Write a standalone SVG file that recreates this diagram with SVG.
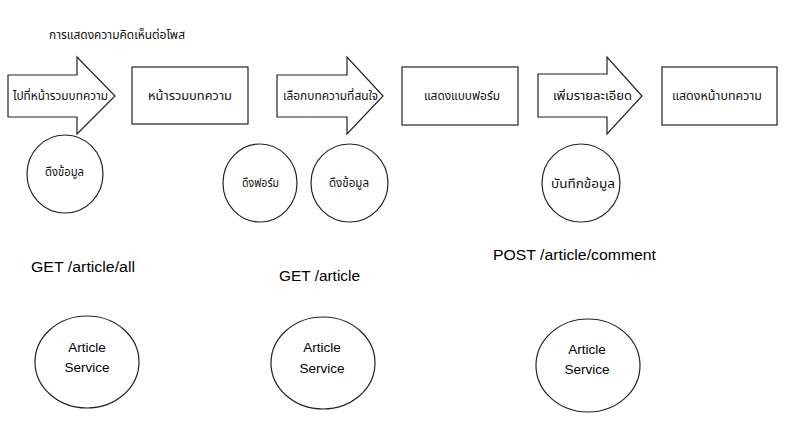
<svg xmlns="http://www.w3.org/2000/svg" width="787" height="438" viewBox="0 0 787 438">
<style>
.shape{fill:#ffffff;stroke:#222222;stroke-width:1.2}
.th{font-family:"Noto Sans Thai","Noto Sans","DejaVu Sans",Tahoma,sans-serif;font-size:12px;fill:#111111;text-anchor:middle}
.en{font-family:"Liberation Sans","Open Sans",Arial,sans-serif;font-size:14px;fill:#000000}
.svc{font-family:"Liberation Sans","Open Sans",Arial,sans-serif;font-size:13.5px;fill:#000000;text-anchor:middle}
</style>
<rect width="787" height="438" fill="#ffffff"/>
<text class="th" x="49" y="39" style="text-anchor:start" textLength="136" lengthAdjust="spacingAndGlyphs">การแสดงความคิดเห็นต่อโพส</text>
<g id="connectors"></g>
<g id="arrow-goto-list">
<polygon class="shape" points="8,75 77,75 77,57 115,96 77,134 77,117 8,117"/>
<text class="th" x="60.5" y="100" textLength="95" lengthAdjust="spacingAndGlyphs">ไปที่หน้ารวมบทความ</text>
</g>
<g id="page-list">
<rect class="shape" x="132" y="67" width="116" height="57"/>
<text class="th" x="190" y="100" textLength="84" lengthAdjust="spacingAndGlyphs">หน้ารวมบทความ</text>
</g>
<g id="arrow-select">
<polygon class="shape" points="277,75 347,75 347,57 383,96 347,134 347,117 277,117"/>
<text class="th" x="330.5" y="100" textLength="95" lengthAdjust="spacingAndGlyphs">เลือกบทความที่สนใจ</text>
</g>
<g id="page-form">
<rect class="shape" x="402" y="67" width="116" height="58"/>
<text class="th" x="462" y="100" textLength="76" lengthAdjust="spacingAndGlyphs">แสดงแบบฟอร์ม</text>
</g>
<g id="arrow-add">
<polygon class="shape" points="538,74 607,74 607,57 642,96 607,134 607,117 538,117"/>
<text class="th" x="592.5" y="100" textLength="79" lengthAdjust="spacingAndGlyphs">เพิ่มรายละเอียด</text>
</g>
<g id="page-article">
<rect class="shape" x="662" y="67" width="115" height="58"/>
<text class="th" x="717" y="100" textLength="90" lengthAdjust="spacingAndGlyphs">แสดงหน้าบทความ</text>
</g>
<g id="fetch-data-1">
<ellipse class="shape" cx="65" cy="174" rx="38" ry="39"/>
<text class="th" x="64.5" y="176" textLength="39" lengthAdjust="spacingAndGlyphs">ดึงข้อมูล</text>
</g>
<g id="fetch-form">
<ellipse class="shape" cx="260" cy="183" rx="37" ry="39"/>
<text class="th" x="260.5" y="187" textLength="37" lengthAdjust="spacingAndGlyphs">ดึงฟอร์ม</text>
</g>
<g id="fetch-data-2">
<ellipse class="shape" cx="349.5" cy="183" rx="38.5" ry="39"/>
<text class="th" x="349" y="187" textLength="40" lengthAdjust="spacingAndGlyphs">ดึงข้อมูล</text>
</g>
<g id="save-data">
<ellipse class="shape" cx="581" cy="183" rx="39" ry="39"/>
<text class="th" x="583" y="188" textLength="64" lengthAdjust="spacingAndGlyphs">บันทึกข้อมูล</text>
</g>
<text class="en" x="31" y="272" textLength="104" lengthAdjust="spacingAndGlyphs">GET /article/all</text>
<text class="en" x="279" y="281" textLength="81" lengthAdjust="spacingAndGlyphs">GET /article</text>
<text class="en" x="493" y="260" textLength="163" lengthAdjust="spacingAndGlyphs">POST /article/comment</text>
<g id="article-service-1">
<ellipse class="shape" cx="87" cy="362" rx="52" ry="46"/>
<text class="svc" x="87" y="352">Article</text>
<text class="svc" x="87" y="372">Service</text>
</g>
<g id="article-service-2">
<ellipse class="shape" cx="323" cy="363" rx="52" ry="46"/>
<text class="svc" x="322" y="352">Article</text>
<text class="svc" x="322" y="373">Service</text>
</g>
<g id="article-service-3">
<ellipse class="shape" cx="588" cy="365.5" rx="52" ry="46.5"/>
<text class="svc" x="587" y="354">Article</text>
<text class="svc" x="587" y="374">Service</text>
</g>
</svg>
